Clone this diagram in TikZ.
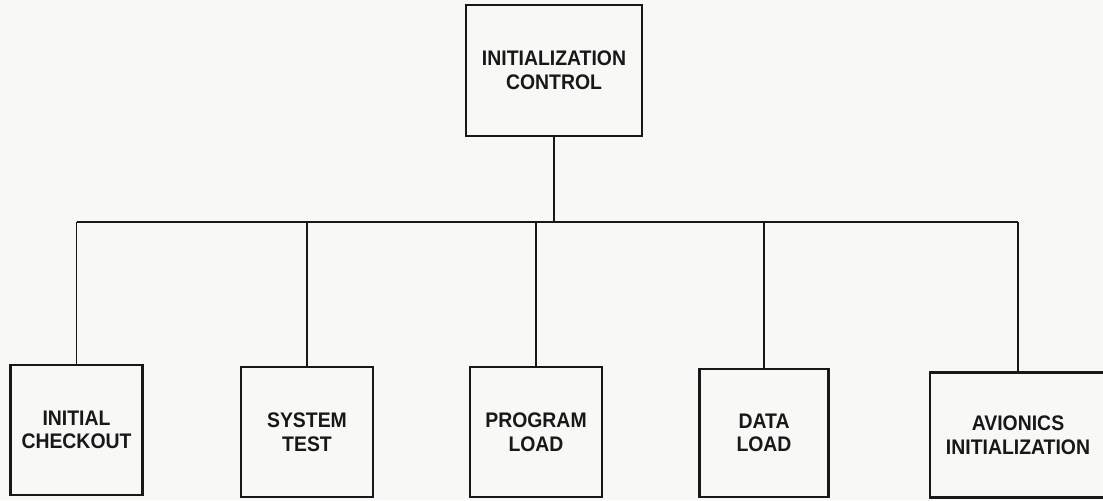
\documentclass[tikz,border=0pt]{standalone}
\usepackage{fontspec}
\setsansfont{Liberation Sans}[FakeStretch=0.92]
\usepackage{tikz}
\usetikzlibrary{positioning, calc}

\definecolor{paper}{RGB}{248,248,246}
\definecolor{ink}{RGB}{24,24,24}

\begin{document}
\begin{tikzpicture}[
    x=0.025cm, y=-0.025cm,
    font=\sffamily\bfseries\fontsize{15}{16.8}\selectfont,
    block/.style={draw=ink, text=ink, line width=2pt, align=center, inner sep=0pt},
    unit/.style={block, minimum width=3.3cm, minimum height=3.25cm},
    wire/.style={draw=ink, line width=1pt}
]

% page
\fill[paper] (0,0) rectangle (1103,500);
\useasboundingbox (0,0) rectangle (1103,500);

% 1. Control box (top)
\node[block, minimum width=4.4cm, minimum height=3.275cm] (Control) at (554,70.5) {INITIALIZATION\\CONTROL};

% 2. Functions (bottom row)
\node[unit] (Checkout) at (76.5,430) {INITIAL\\CHECKOUT};
\node[unit] (SysTest) at (307,432) {SYSTEM\\TEST};
\node[unit] (ProgLoad) at (536,432) {PROGRAM\\LOAD};
\node[unit, minimum width=3.225cm, minimum height=3.2cm] (DataLoad) at (764,433) {DATA\\LOAD};
\node[block, minimum width=4.4cm, minimum height=3.125cm] (Avionics) at (1018,435) {AVIONICS\\INITIALIZATION};

% Tree lines
\coordinate (bus) at (0,222);
\draw[wire] (Control.south) -- (Control.south |- bus);
\draw[wire, line width=1.3pt] (Checkout.north |- bus) -- (Avionics.north |- bus);
\foreach \n in {Checkout, SysTest, ProgLoad, DataLoad, Avionics}
    \draw[wire] (\n.north |- bus) -- (\n.north);

\end{tikzpicture}
\end{document}
